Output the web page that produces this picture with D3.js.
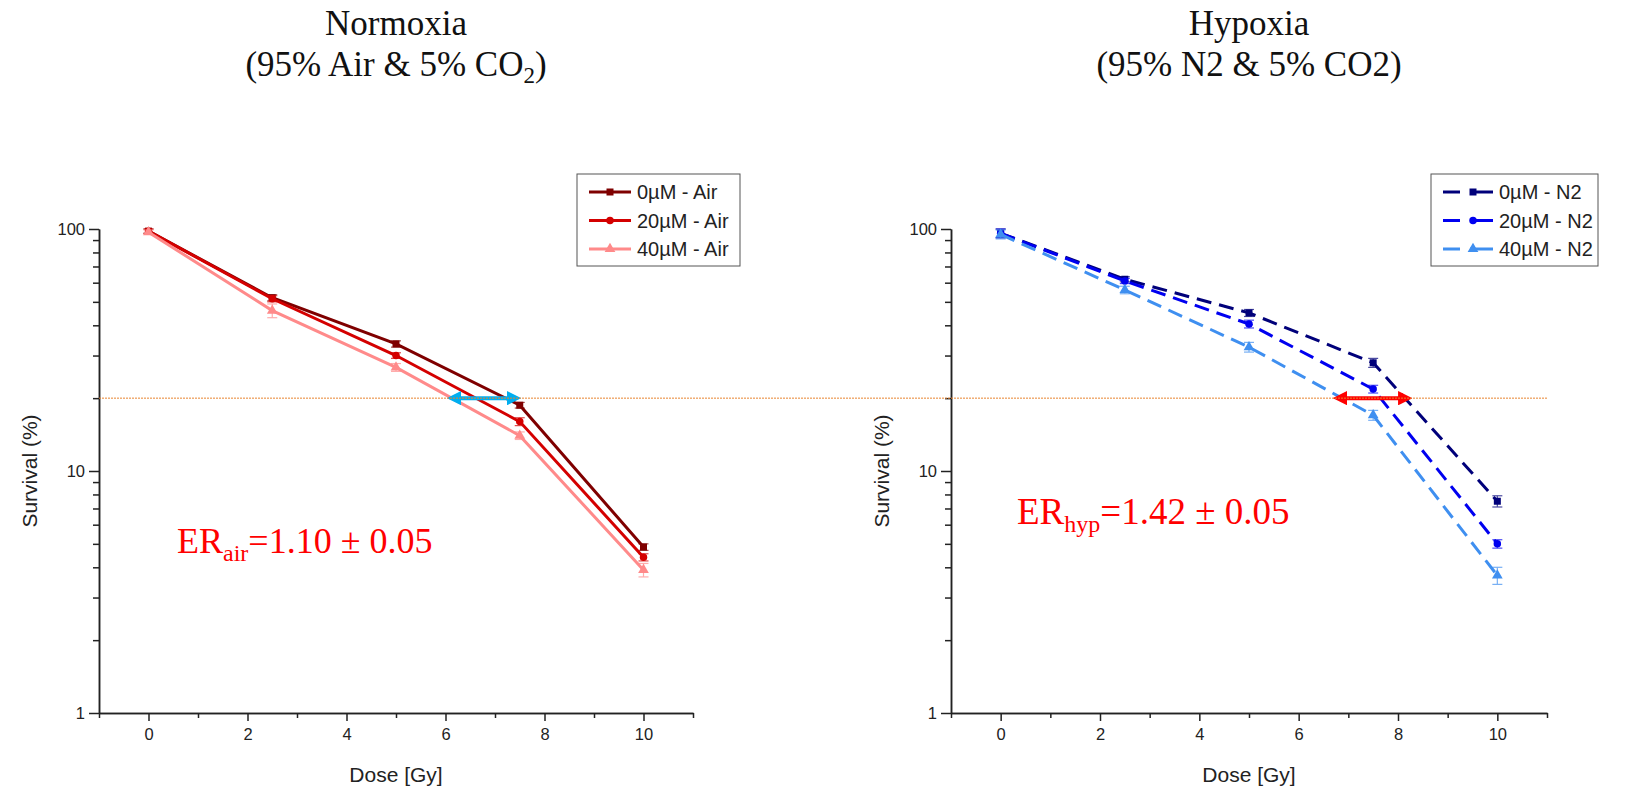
<!DOCTYPE html>
<html lang="en">
<head>
<meta charset="UTF-8">
<title>Survival curves - Normoxia vs Hypoxia</title>
<script src="https://d3js.org/d3.v7.min.js"></script>
<style>
    body { margin: 0; padding: 0; background: #fff; }
    svg { display: block; }
</style>
</head>
<body>
<svg id="chart"></svg>
<script>
    // ---- data ----
    const doses = [0, 2.5, 5, 7.5, 10];

    const air0 = [98, 52, 33.5, 18.7, 4.85];
    const air0Err = [2, 1.5, 1, 0.5, 0.15];
    const air20 = [98, 51.5, 30, 16, 4.4];
    const air20Err = [2, 1.5, 0.8, 0.6, 0.15];
    const air40 = [97, 46, 26.8, 14, 3.9];
    const air40Err = [2, 3, 1, 0.5, 0.25];

    const n2_0 = [96, 62, 45, 28, 7.5];
    const n2_0Err = [4, 1.5, 1.5, 1.2, 0.4];
    const n2_20 = [96, 61, 40.5, 21.8, 5.0];
    const n2_20Err = [4, 1.5, 1.5, 0.8, 0.2];
    const n2_40 = [95, 56, 32.5, 17, 3.7];
    const n2_40Err = [4, 2, 1.5, 0.8, 0.3];

    const airLabels = ["0\u00b5M - Air", "20\u00b5M - Air", "40\u00b5M - Air"];
    const n2Labels = ["0\u00b5M - N2", "20\u00b5M - N2", "40\u00b5M - N2"];
    const airColors = ["#7f0000", "#d40000", "#ff8a8a"];
    const n2Colors = ["#00007a", "#0000f0", "#3f8ff0"];
    const markers = ["square", "circle", "triangle"];

    const xTicks = [0, 2, 4, 6, 8, 10];
    const xMinor = [-1, 1, 3, 5, 7, 9, 11];
    const yTicks = [1, 10, 100];
    const yMinor = [2, 3, 4, 5, 6, 7, 8, 9, 20, 30, 40, 50, 60, 70, 80, 90];

    const refSurvival = 20;
    const arrowAir = [6.12, 7.44];
    const arrowHyp = [6.78, 8.2];

    // ---- layout ----
    const width = 1627, height = 793;
    const yTop = 229, yBottom = 713;
    const sans = "Arial, 'Liberation Sans', sans-serif";
    const serif = "'Liberation Serif', 'Times New Roman', serif";

    const svg = d3.select("#chart").attr("width", width).attr("height", height);

    const defs = svg.append("defs");
    [["headCyan", "#00aef0"], ["headRed", "#ff0000"]].forEach(([id, c]) => {
        defs.append("marker")
            .attr("id", id)
            .attr("viewBox", "0 0 10 10")
            .attr("refX", 2).attr("refY", 5)
            .attr("markerWidth", 3.6).attr("markerHeight", 3.6)
            .attr("orient", "auto-start-reverse")
            .append("path").attr("d", "M0,0 L10,5 L0,10 Z").attr("fill", c);
    });

    const y = d3.scaleLog().domain([1, 100]).range([yBottom, yTop]);

    function symbolPath(type) {
        const s = type === "square" ? d3.symbolSquare : type === "circle" ? d3.symbolCircle : d3.symbolTriangle;
        const size = type === "square" ? 49 : type === "circle" ? 44 : 50;
        return d3.symbol().type(s).size(size)();
    }

    function styleAxis(sel) {
        sel.attr("font-size", null).attr("font-family", null);
        sel.selectAll("path, line").attr("stroke", "#222").attr("stroke-width", 1.5);
        sel.selectAll("text")
            .style("font-family", sans).style("font-size", "16.5px").style("fill", "#222");
    }

    function drawPanel(opt) {
        const x = d3.scaleLinear().domain([-1, 11]).range([opt.x0, opt.x1]);
        const g = svg.append("g");

        // axes
        g.append("g")
            .attr("transform", `translate(0,${yBottom})`)
            .call(d3.axisBottom(x).tickValues(xMinor).tickSize(5).tickFormat("").tickSizeOuter(0))
            .call(styleAxis);
        g.append("g")
            .attr("transform", `translate(0,${yBottom})`)
            .call(d3.axisBottom(x).tickValues(xTicks).tickSize(8).tickPadding(7).tickSizeOuter(0))
            .call(styleAxis);
        g.append("g")
            .attr("transform", `translate(${opt.x0},0)`)
            .call(d3.axisLeft(y).tickValues(yMinor).tickSize(6).tickFormat("").tickSizeOuter(0))
            .call(styleAxis);
        g.append("g")
            .attr("transform", `translate(${opt.x0},0)`)
            .call(d3.axisLeft(y).tickValues(yTicks).tickSize(10).tickPadding(4).tickFormat(d3.format("d")).tickSizeOuter(0))
            .call(styleAxis);

        // axis titles
        g.append("text")
            .attr("x", (opt.x0 + opt.x1) / 2).attr("y", 782)
            .attr("text-anchor", "middle")
            .style("font-family", sans).style("font-size", "21px").style("fill", "#222")
            .text("Dose [Gy]");
        g.append("text")
            .attr("transform", `translate(${opt.x0 - 62},${(yTop + yBottom) / 2}) rotate(-90)`)
            .attr("text-anchor", "middle")
            .style("font-family", sans).style("font-size", "21px").style("fill", "#222")
            .text("Survival (%)");

        // series
        opt.series.forEach((s, i) => {
            const pts = doses.map((d, k) => ({ d, v: s.values[k], e: s.err[k] }));
            g.append("path")
                .datum(pts)
                .attr("fill", "none")
                .attr("stroke", s.color)
                .attr("stroke-width", 3)
                .attr("stroke-dasharray", opt.dashed ? "15,8" : null)
                .attr("d", d3.line().x(p => x(p.d)).y(p => y(p.v)));

            const eb = g.append("g").attr("stroke", s.color).attr("stroke-width", 1.2).attr("opacity", 0.7);
            pts.forEach(p => {
                const cx = x(p.d), y1 = y(p.v + p.e), y2 = y(p.v - p.e);
                eb.append("line").attr("x1", cx).attr("x2", cx).attr("y1", y1).attr("y2", y2);
                eb.append("line").attr("x1", cx - 5).attr("x2", cx + 5).attr("y1", y1).attr("y2", y1);
                eb.append("line").attr("x1", cx - 5).attr("x2", cx + 5).attr("y1", y2).attr("y2", y2);
            });

            g.selectAll(null).data(pts).enter().append("path")
                .attr("d", symbolPath(markers[i]))
                .attr("transform", p => `translate(${x(p.d)},${y(p.v)})`)
                .attr("fill", s.color);
        });

        // arrow at the reference survival
        g.append("line")
            .attr("x1", x(opt.arrow[0]) + 7).attr("x2", x(opt.arrow[1]) - 7)
            .attr("y1", y(refSurvival)).attr("y2", y(refSurvival))
            .attr("stroke", opt.arrowColor).attr("stroke-width", 4)
            .attr("marker-start", `url(#${opt.arrowHead})`)
            .attr("marker-end", `url(#${opt.arrowHead})`);

        // legend
        const L = opt.legendLine;
        const lg = g.append("g").attr("transform", `translate(${opt.legendX},174)`);
        lg.append("rect").attr("width", opt.legendW).attr("height", 92)
            .attr("fill", "#fff").attr("stroke", "#555").attr("stroke-width", 1);
        opt.series.forEach((s, i) => {
            const ly = 18 + i * 28.5;
            const segs = opt.dashed ? [[0, L * 0.34], [L * 0.54, L]] : [[0, L]];
            segs.forEach(([a, b]) => {
                lg.append("line")
                    .attr("x1", 12 + a).attr("x2", 12 + b)
                    .attr("y1", ly).attr("y2", ly)
                    .attr("stroke", s.color).attr("stroke-width", 3);
            });
            lg.append("path").attr("d", symbolPath(markers[i]))
                .attr("transform", `translate(${12 + (opt.dashed ? L * 0.6 : L / 2)},${ly})`)
                .attr("fill", s.color);
            lg.append("text")
                .attr("x", 18 + L).attr("y", ly + 7)
                .style("font-family", sans).style("font-size", "20px").style("fill", "#222")
                .text(s.label);
        });

        // title
        const cx = (opt.x0 + opt.x1) / 2;
        const tt = g.append("g").style("font-family", serif).style("fill", "#111");
        tt.append("text").attr("x", cx).attr("y", 35).attr("text-anchor", "middle")
            .style("font-size", "35px").text(opt.title);
        const t2 = tt.append("text").attr("x", cx).attr("y", 76).attr("text-anchor", "middle").style("font-size", "35px");
        opt.subtitle.forEach(part => {
            const ts = t2.append("tspan").text(part.t);
            if (part.sub) ts.attr("dy", 7).style("font-size", "23px");
            if (part.after) ts.attr("dy", -7);
        });

        // ER annotation
        const er = g.append("text").attr("x", opt.erX).attr("y", opt.erY)
            .style("font-family", serif)
            .style("font-size", opt.erSize + "px").style("fill", "#ff0000");
        er.append("tspan").text("ER");
        er.append("tspan").attr("dy", 8).style("font-size", Math.round(opt.erSize * 0.66) + "px").text(opt.erSub);
        er.append("tspan").attr("dy", -8).text(opt.erText);

        return x;
    }

    const xL = drawPanel({
        x0: 99, x1: 693, dashed: false,
        series: [
            { values: air0, err: air0Err, color: airColors[0], label: airLabels[0] },
            { values: air20, err: air20Err, color: airColors[1], label: airLabels[1] },
            { values: air40, err: air40Err, color: airColors[2], label: airLabels[2] }
        ],
        arrow: arrowAir, arrowColor: "#00aef0", arrowHead: "headCyan",
        legendX: 577, legendW: 163, legendLine: 42,
        title: "Normoxia",
        subtitle: [{ t: "(95% Air & 5% CO" }, { t: "2", sub: true }, { t: ")", after: true }],
        erX: 177, erY: 553, erSize: 36, erSub: "air", erText: "=1.10 \u00b1 0.05"
    });

    const xR = drawPanel({
        x0: 951, x1: 1547, dashed: true,
        series: [
            { values: n2_0, err: n2_0Err, color: n2Colors[0], label: n2Labels[0] },
            { values: n2_20, err: n2_20Err, color: n2Colors[1], label: n2Labels[1] },
            { values: n2_40, err: n2_40Err, color: n2Colors[2], label: n2Labels[2] }
        ],
        arrow: arrowHyp, arrowColor: "#ff0000", arrowHead: "headRed",
        legendX: 1431, legendW: 167, legendLine: 50,
        title: "Hypoxia",
        subtitle: [{ t: "(95% N2 & 5% CO2)" }],
        erX: 1017, erY: 524, erSize: 37, erSub: "hyp", erText: "=1.42 \u00b1 0.05"
    });

    // dotted reference line at 20 % survival, spanning both panels
    svg.append("line")
        .attr("x1", xL(-1)).attr("x2", xR(11))
        .attr("y1", y(refSurvival)).attr("y2", y(refSurvival))
        .attr("stroke", "#e8832e").attr("stroke-width", 1)
        .attr("stroke-dasharray", "2,1");
</script>
</body>
</html>
